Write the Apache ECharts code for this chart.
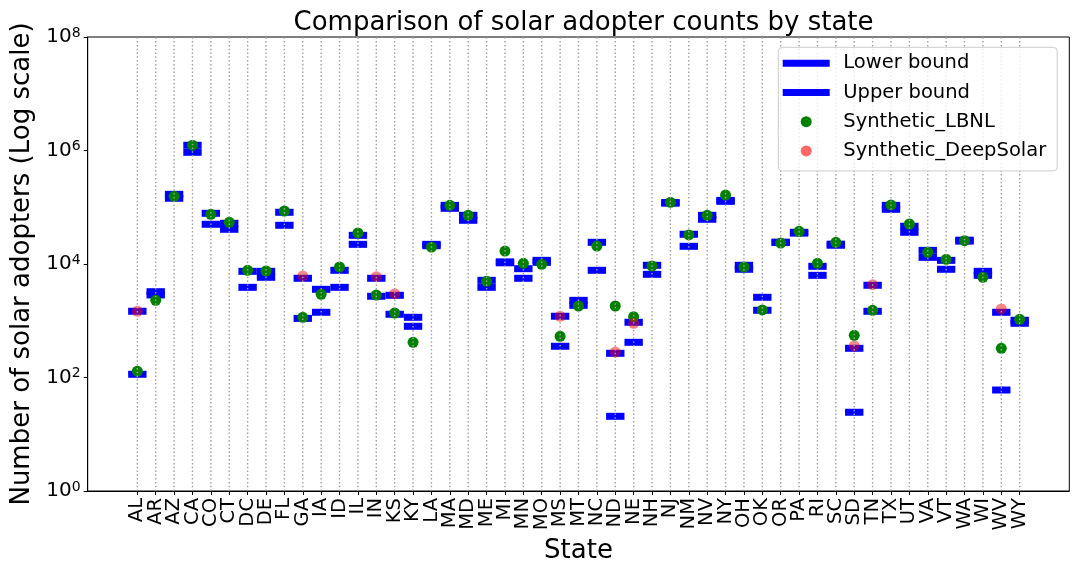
<!DOCTYPE html>
<html><head><meta charset="utf-8">
<script src="https://cdn.jsdelivr.net/npm/echarts@6/dist/echarts.min.js"></script>
<style>html,body{margin:0;padding:0;background:#fff}#c{width:1080px;height:576px}</style>
</head><body><div id="c"></div>
<script>
const states = ['AL','AR','AZ','CA','CO','CT','DC','DE','FL','GA','IA','ID','IL','IN','KS','KY','LA','MA','MD','ME','MI','MN','MO','MS','MT','NC','ND','NE','NH','NJ','NM','NV','NY','OH','OK','OR','PA','RI','SC','SD','TN','TX','UT','VA','VT','WA','WI','WV','WY'];
const upperBound = [1470, 3250, 169000, 1236000, 78200, 52100, 7430, 7430, 81500, 5600, 3580, 7740, 32000, 5600, 2810, 1150, 22200, 108000, 72100, 5160, 10900, 8270, 11600, 1200, 2290, 24100, 267, 940, 9490, 121000, 33400, 72100, 132000, 9490, 2590, 24300, 36200, 9100, 22400, 327, 4220, 108000, 46200, 17400, 11600, 26300, 7430, 1410, 1020];
const lowerBound = [114, 2850, 144000, 930000, 50100, 40900, 3880, 5830, 48100, 1100, 1410, 3880, 22200, 2700, 1300, 798, 21000, 95800, 58900, 3880, 10500, 5600, 10700, 355, 1870, 7740, 20.7, 417, 6580, 118000, 20500, 61400, 127000, 8070, 1530, 23900, 35000, 6310, 21400, 24.4, 1468, 92000, 36200, 13100, 8070, 25300, 6310, 60.2, 902];
const synthLBNL = [129, 2290, 156000, 1240000, 75100, 54300, 7740, 7530, 85900, 1150, 2930, 8850, 35200, 2840, 1370, 417, 19900, 108000, 72100, 4960, 16900, 10300, 9880, 532, 1820, 20700, 1820, 1180, 9220, 122000, 32500, 72100, 164000, 8850, 1550, 23400, 37700, 10300, 24100, 554, 1530, 110000, 50700, 16100, 12100, 25800, 5830, 327, 1060];
const synthDeepSolar = [1470, null, null, null, null, null, null, null, null, 6150, null, null, null, 5980, 3000, null, null, null, null, null, null, null, null, 1200, null, null, 281, 902, null, null, null, null, null, null, null, null, null, null, null, 359, 4320, null, null, null, null, null, null, 1610, null];
const yRange = [1, 1e8];

const FONT = 'DejaVu Sans';
const chart = echarts.init(document.getElementById('c'), null, {renderer: 'canvas'});

function boundSeries(name, values) {
  return {
    name: name, type: 'custom', coordinateSystem: 'cartesian2d',
    data: values.map((v, i) => [i, v]),
    encode: {x: 0, y: 1},
    itemStyle: {color: '#0000ff'},
    z: 2, silent: true,
    renderItem: function (params, api) {
      const i = api.value(0), v = api.value(1);
      const p0 = api.coord([i - 0.5, v]);
      const p1 = api.coord([i + 0.5, v]);
      const h = 7;
      return {type: 'rect', shape: {x: p0[0], y: p0[1] - h / 2, width: p1[0] - p0[0], height: h}, style: {fill: '#0000ff'}};
    }
  };
}

const idx = states.map((s, i) => i);
// empty end labels so the auto min/max label logic never hides a state label
const labelValues = [-2].concat(idx, [50]);

chart.setOption({
  animation: false,
  backgroundColor: '#ffffff',
  title: {
    text: 'Comparison of solar adopter counts by state',
    left: 578.5, textAlign: 'center', top: 5,
    textStyle: {fontFamily: FONT, fontSize: 26, fontWeight: 'normal', color: '#000'}
  },
  grid: {left: 87.7, right: 10.7, top: 37, bottom: 85, show: true, borderColor: '#000', borderWidth: 1, backgroundColor: 'transparent'},
  legend: {
    left: 778.3, top: 47.3, orient: 'vertical', z: 20,
    padding: [6, 11, 10, 4.4],
    itemWidth: 47, itemHeight: 11, itemGap: 9.2,
    backgroundColor: 'rgba(255,255,255,0.8)', borderColor: '#cccccc', borderWidth: 1, borderRadius: 4,
    selectedMode: false,
    textStyle: {fontFamily: FONT, fontSize: 19.5, color: '#000', lineHeight: 20, padding: [0, 0, 0, 8.6]},
    data: [
      {name: 'Lower bound', icon: 'path://M0,0H47V7H0Z'},
      {name: 'Upper bound', icon: 'path://M0,0H47V7H0Z'},
      {name: 'Synthetic_LBNL', icon: 'circle'},
      {name: 'Synthetic_DeepSolar', icon: 'circle', itemStyle: {color: 'rgba(255,0,0,0.6)', opacity: 1}}
    ]
  },
  xAxis: {
    type: 'value', min: -2.7, max: 50.7,
    axisLine: {show: true, onZero: false, lineStyle: {color: '#000', width: 1}},
    axisTick: {show: true, customValues: idx, length: 4, lineStyle: {color: '#000'}},
    axisLabel: {show: true, customValues: labelValues, hideOverlap: false,
      formatter: v => (states[v] !== undefined ? states[v] : ''), rotate: 90, fontFamily: FONT, fontSize: 19.5, lineHeight: 15, color: '#000', margin: 7},
    splitLine: {show: false},
    name: 'State', nameLocation: 'middle', nameGap: 44,
    nameTextStyle: {fontFamily: FONT, fontSize: 26, color: '#000'}
  },
  yAxis: {
    type: 'log', logBase: 10, min: yRange[0], max: yRange[1], interval: 2, splitNumber: 4,
    axisLine: {show: true, onZero: false, lineStyle: {color: '#000', width: 1}},
    axisTick: {show: true, length: 4, lineStyle: {color: '#000'}},
    minorTick: {show: false}, splitLine: {show: false},
    axisLabel: {
      margin: 7, color: '#000', showMinLabel: true, showMaxLabel: true,
      formatter: v => '{b|10}{s|' + Math.round(Math.log10(v)) + '}',
      rich: {
        b: {fontFamily: FONT, fontSize: 20, color: '#000'},
        s: {fontFamily: FONT, fontSize: 14, color: '#000', padding: [0, 0, 8, 0]}
      }
    },
    name: 'Number of solar adopters (Log scale)', nameLocation: 'middle', nameGap: 52,
    nameTextStyle: {fontFamily: FONT, fontSize: 26, color: '#000'}
  },
  series: [
    boundSeries('Lower bound', lowerBound),
    boundSeries('Upper bound', upperBound),
    {
      name: 'Synthetic_LBNL', type: 'scatter', symbol: 'circle', symbolSize: 11, z: 3,
      itemStyle: {color: '#008000', opacity: 1},
      data: synthLBNL.map((v, i) => [i, v])
    },
    {
      name: 'Synthetic_DeepSolar', type: 'scatter', symbol: 'circle', symbolSize: 11, z: 4,
      itemStyle: {color: 'rgba(255,0,0,0.6)'},
      data: synthDeepSolar.map((v, i) => (v == null ? null : [i, v])).filter(d => d)
    },
    {
      name: 'grid', type: 'custom', coordinateSystem: 'cartesian2d', z: 10, silent: true,
      data: idx.map(i => [i, 1]), encode: {x: 0, y: 1},
      renderItem: function (params, api) {
        const i = api.value(0);
        const pb = api.coord([i, yRange[0]]);
        const pt = api.coord([i, yRange[1]]);
        return {type: 'line', shape: {x1: pb[0], y1: pb[1], x2: pt[0], y2: pt[1]},
          style: {stroke: '#a0a0a0', lineWidth: 1.4, lineDash: [1.5, 2.3]}};
      }
    }
  ]
});
</script></body></html>
